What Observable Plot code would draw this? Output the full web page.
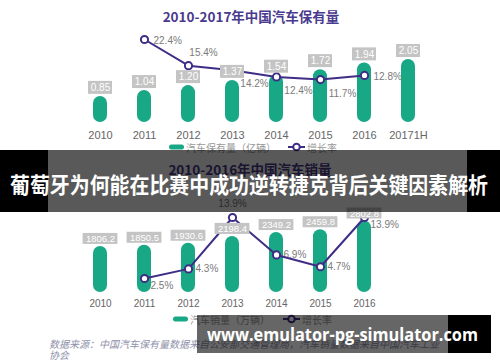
<!DOCTYPE html>
<html><head><meta charset="utf-8">
<script src="https://cdn.jsdelivr.net/npm/d3@7"></script>
<script src="https://cdn.jsdelivr.net/npm/@observablehq/plot@0.6"></script>
<style>
html,body{margin:0;padding:0;background:#fff;}
#root{position:relative;width:500px;height:362px;overflow:hidden;background:#fff;font-family:"Noto Sans CJK SC","Liberation Sans",sans-serif;}
#root svg{position:absolute;left:0;}
</style></head><body><div id="root"></div>
<script>
// ---- data ----
const ownYears = ["2010","2011","2012","2013","2014","2015","2016","20171H"];
const ownValues = [0.85,1.04,1.20,1.37,1.54,1.72,1.94,2.05];
const ownGrowthYears = ["2011","2012","2013","2014","2015","2016"];
const ownGrowth = [22.4,15.4,14.2,12.4,11.7,12.8];
const salesYears = ["2010","2011","2012","2013","2014","2015","2016"];
const salesValues = [1806.2,1850.5,1930.6,2198.4,2349.2,2459.8,2802.8];
const salesGrowthYears = ["2011","2012","2013","2014","2015","2016"];
const salesGrowth = [2.5,4.3,13.9,6.9,4.7,13.9];
const topTitle = "2010-2017年中国汽车保有量";
const bottomTitle = "2010-2016年中国汽车销量";
const topLegend = ["汽车保有量（亿辆）","增长率"];
const bottomLegend = ["汽车销量（万辆）","增长率"];
const sourceLines = ["数据来源：中国汽车保有量数据来自公安部交通管理局，汽车销量数据来自中国汽车工业","协会"];
const bannerText = "葡萄牙为何能在比赛中成功逆转捷克背后关键因素解析";
const footerText = "www.emulator-pg-simulator.com";

const GREEN = "#18a886", PURPLE = "#3f2d86", BOX = "#c4c4c4", LBL = "#7a7a7a";
const root = document.getElementById("root");

function place(svg, top) {
  svg.style.top = top + "px";
  svg.style.background = "transparent";
  svg.style.overflow = "visible";
  root.appendChild(svg);
}

function chart(cfg) {
  const bars = cfg.years.map((y, i) => ({year: y, value: cfg.values[i]}));
  const growth = cfg.gYears.map((y, i) => ({year: y, g: cfg.growth[i]}));
  const base = {
    width: 500, height: cfg.height, marginTop: 0, marginBottom: cfg.marginBottom,
    marginLeft: 0, marginRight: 0,
    style: {background: "transparent", fontFamily: "'Liberation Sans', Arial, sans-serif", overflow: "visible"}
  };
  const x = {type: "band", domain: cfg.years, range: cfg.xRange, padding: 0, axis: null, label: null};
  const yBar = {domain: [0, d3.max(cfg.values)], range: cfg.barRange, axis: null};
  const yLine = {domain: [0, d3.max(cfg.growth)], range: cfg.lineRange, axis: null};
  const labelMarks = cfg.groups.map(g => Plot.text(growth.filter(d => g.years.includes(d.year)), {
    x: "year", y: "g", text: d => d.g.toFixed(1) + "%", fill: LBL, fontSize: 10,
    textAnchor: g.anchor, dx: g.dx, dy: g.dy
  }));
  // layer 1: growth labels
  place(Plot.plot({...base, x, y: yLine, marks: labelMarks}), cfg.top);
  // layer 2: bars
  place(Plot.plot({...base, x, y: yBar, marks: [
    Plot.barY(bars, {x: "year", y: "value", fill: GREEN, insetLeft: cfg.barInset, insetRight: cfg.barInset, rx: 7})
  ]}), cfg.top);
  // layer 3: growth line + markers
  place(Plot.plot({...base, x, y: yLine, marks: [
    Plot.line(growth, {x: "year", y: "g", stroke: PURPLE, strokeWidth: 2}),
    Plot.dot(growth, {x: "year", y: "g", r: 3.6, fill: "white", stroke: PURPLE, strokeWidth: 2})
  ]}), cfg.top);
  // layer 4: value boxes, value text, year axis
  place(Plot.plot({...base, x: {...x, axis: undefined}, y: yBar, marks: [
    Plot.barY(bars, {x: "year", y1: "value", y2: "value", insetTop: -cfg.boxTop, insetBottom: cfg.boxBottom,
      insetLeft: cfg.boxInset, insetRight: cfg.boxInset, fill: BOX}),
    Plot.text(bars, {x: "year", y: "value", text: d => d.value.toFixed(cfg.digits),
      dy: -(cfg.boxTop + cfg.boxBottom) / 2, fill: "white", fontSize: cfg.valueFont}),
    Plot.axisX({tickSize: 0, tickPadding: cfg.axisPad, fontSize: cfg.axisFont, fill: "#666", label: null})
  ]}), cfg.top);
}

chart({
  top: 0, height: 150, marginBottom: 28,
  years: ownYears, values: ownValues, gYears: ownGrowthYears, growth: ownGrowth,
  xRange: [77, 430], barRange: [122, 59], lineRange: [122.8, 39],
  barInset: 15, boxTop: 15, boxBottom: 2, boxInset: 10, digits: 2, valueFont: 10,
  axisPad: 9, axisFont: 11,
  groups: [
    {years: ["2011", "2016"], anchor: "start", dx: 9, dy: 1},
    {years: ["2012"], anchor: "middle", dx: 15, dy: -13},
    {years: ["2013", "2014", "2015"], anchor: "middle", dx: 22, dy: 14}
  ]
});
chart({
  top: 160, height: 150, marginBottom: 18,
  years: salesYears, values: salesValues, gYears: salesGrowthYears, growth: salesGrowth,
  xRange: [77.5, 387], barRange: [132, 60.5], lineRange: [131.4, 57],
  barInset: 15, boxTop: 13, boxBottom: 2, boxInset: 4.6, digits: 1, valueFont: 9.5,
  axisPad: 7, axisFont: 10,
  groups: [
    {years: ["2012", "2014", "2015"], anchor: "start", dx: 7, dy: 0},
    {years: ["2011", "2016"], anchor: "start", dx: 6, dy: 7},
    {years: ["2013"], anchor: "middle", dx: 0, dy: -14}
  ]
});

// ---- overlay: titles, legends, source, banners ----
const ov = d3.select(root).append("svg").attr("width", 500).attr("height", 362).style("top", "0px")
  .style("font-family", "'Noto Sans CJK SC', sans-serif");

ov.append("text").attr("x", 251).attr("y", 16).attr("text-anchor", "middle").attr("dominant-baseline", "central")
  .attr("font-size", 13.5).attr("font-weight", 700).attr("fill", "#4a3a8e").text(topTitle);
ov.append("text").attr("x", 250).attr("y", 169).attr("text-anchor", "middle").attr("dominant-baseline", "central")
  .attr("font-size", 13.5).attr("font-weight", 700).attr("fill", "#4a3a8e").text(bottomTitle);

function legend(y, x0, labels, x1) {
  ov.append("rect").attr("x", x0).attr("y", y - 2.5).attr("width", 15).attr("height", 5).attr("rx", 2.5).attr("fill", GREEN);
  ov.append("text").attr("x", x0 + 17).attr("y", y).attr("dominant-baseline", "central").attr("font-size", 10).attr("fill", "#999").text(labels[0]);
  ov.append("line").attr("x1", x1).attr("x2", x1 + 17).attr("y1", y).attr("y2", y).attr("stroke", PURPLE).attr("stroke-width", 2);
  ov.append("circle").attr("cx", x1 + 8.5).attr("cy", y).attr("r", 3.3).attr("fill", "white").attr("stroke", PURPLE).attr("stroke-width", 2);
  ov.append("text").attr("x", x1 + 19).attr("y", y).attr("dominant-baseline", "central").attr("font-size", 10).attr("fill", "#999").text(labels[1]);
}
legend(147, 169, topLegend, 288);
legend(319, 173, bottomLegend, 283);

sourceLines.forEach((s, i) => {
  ov.append("text").attr("x", 49).attr("y", 343 + i * 11).attr("dominant-baseline", "central")
    .attr("font-size", 10).attr("font-style", "italic").attr("fill", "#8f92ab").text(s);
});

// top banner
ov.append("rect").attr("x", 0).attr("y", 150).attr("width", 500).attr("height", 62).attr("fill", "rgba(0,0,0,0.65)");
ov.append("rect").attr("x", 0).attr("y", 150).attr("width", 48).attr("height", 62).attr("fill", "#000");
ov.append("rect").attr("x", 467).attr("y", 150).attr("width", 33).attr("height", 62).attr("fill", "#000");
ov.append("text").attr("x", 10).attr("y", 183).attr("dominant-baseline", "central")
  .attr("font-size", 22).attr("font-weight", 700).attr("fill", "white")
  .attr("textLength", 478).attr("lengthAdjust", "spacingAndGlyphs").text(bannerText);
// bottom banner
ov.append("rect").attr("x", 197).attr("y", 315).attr("width", 251).attr("height", 38).attr("fill", "rgba(0,0,0,0.6)");
ov.append("rect").attr("x", 448).attr("y", 315).attr("width", 43).attr("height", 38).attr("fill", "#000");
ov.append("text").attr("x", 207).attr("y", 334).attr("dominant-baseline", "central")
  .attr("font-family", "'Open Sans','DejaVu Sans',sans-serif")
  .attr("font-size", 18).attr("font-weight", 700).attr("fill", "white")
  .attr("textLength", 271).attr("lengthAdjust", "spacingAndGlyphs").text(footerText);
</script></body></html>
